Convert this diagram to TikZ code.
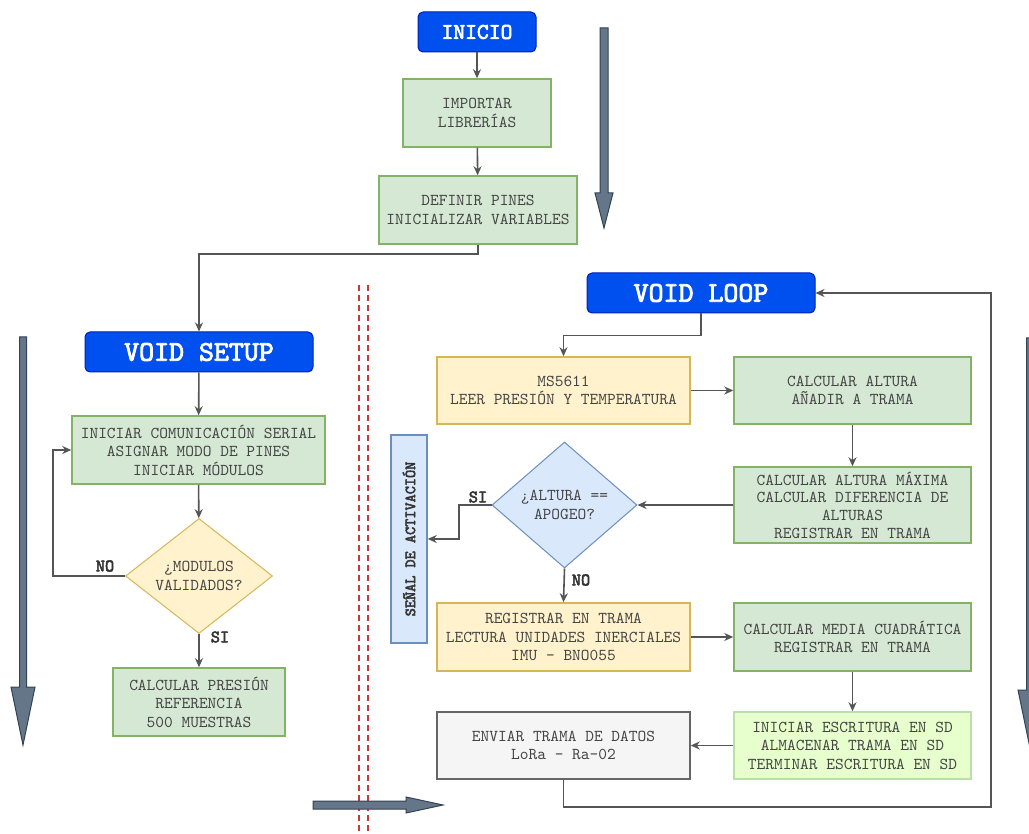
\documentclass[tikz,border=0pt]{standalone}
\usepackage{fontspec}
\newfontfamily\courlt{lmmono10-regular.otf}
\newfontfamily\courbf{lmmono10-regular.otf}[FakeBold=3]
\usetikzlibrary{shapes.geometric,arrows.meta}
\definecolor{hdrfill}{HTML}{0050EF}
\definecolor{hdrdraw}{HTML}{001DBC}
\definecolor{gfill}{HTML}{D5E8D4}
\definecolor{gdraw}{HTML}{82B366}
\definecolor{yfill}{HTML}{FFF2CC}
\definecolor{ydraw}{HTML}{D6B656}
\definecolor{bfill}{HTML}{DAE8FC}
\definecolor{bdraw}{HTML}{6C8EBF}
\definecolor{lgfill}{HTML}{E6FFCC}
\definecolor{lgdraw}{HTML}{B9E0A5}
\definecolor{grfill}{HTML}{F5F5F5}
\definecolor{grdraw}{HTML}{666666}
\definecolor{afill}{HTML}{647687}
\definecolor{adraw}{HTML}{314354}
\definecolor{txtc}{HTML}{444444}
\definecolor{connc}{HTML}{555555}
\definecolor{redd}{HTML}{C83A3A}
\newcommand{\boxfont}{\courlt\fontsize{16.6}{18.5}\selectfont}
\newcommand{\hdrfontA}{\courbf\fontsize{22.5}{25}\selectfont}
\newcommand{\hdrfontB}{\courbf\fontsize{28.5}{31}\selectfont}
\newcommand{\lblfont}{\courbf\fontsize{17.5}{19}\selectfont}
\newcommand{\vfont}{\courbf\fontsize{15.5}{17}\selectfont}
\tikzset{
  basebox/.style={rectangle, line width=1.5pt, align=center, inner sep=0pt, font=\boxfont, text=txtc},
  hdr/.style={rectangle, rounded corners=5pt, draw=hdrdraw, fill=hdrfill, line width=1pt, text=white, inner sep=0pt},
  gbox/.style={basebox, draw=gdraw, fill=gfill},
  ybox/.style={basebox, draw=ydraw, fill=yfill},
  bbox/.style={basebox, draw=bdraw, fill=bfill},
  lgbox/.style={basebox, draw=lgdraw, fill=lgfill},
  grbox/.style={basebox, draw=grdraw, fill=grfill},
  ydia/.style={diamond, draw=ydraw, fill=yfill, line width=1pt, align=center, inner sep=0pt, font=\boxfont, text=txtc},
  bdia/.style={diamond, draw=bdraw, fill=bfill, line width=1pt, align=center, inner sep=0pt, font=\boxfont, text=txtc},
  conn/.style={draw=connc, line width=1.6pt, -{Stealth[length=9pt,width=8pt]}},
  lbl/.style={font=\lblfont, text=black!80, inner sep=0pt},
  bigarr/.style={draw=adraw, fill=afill, line width=1pt, line join=miter},
  reddash/.style={draw=redd, line width=2.2pt, dash pattern=on 6pt off 4pt}
}
\begin{document}
\begin{tikzpicture}[x=1pt,y=-1pt]
\useasboundingbox[fill=white] (0,0) rectangle (1029,834);

% decorative big arrows
\draw[bigarr] (600,28) -- (608,28) -- (608,193) -- (613,193) -- (604,228) -- (595,193) -- (600,193) -- cycle;
\draw[bigarr] (19.5,337) -- (26.5,337) -- (26.5,687) -- (35,687) -- (23,745) -- (11,687) -- (19.5,687) -- cycle;
\draw[bigarr] (1026.5,338) -- (1033.5,338) -- (1033.5,690) -- (1042,690) -- (1030,748) -- (1018,690) -- (1026.5,690) -- cycle;

% red separator
\draw[reddash] (359,285) -- (359,834);
\draw[reddash] (368,285) -- (368,834);

\draw[bigarr] (313,801) -- (406,801) -- (406,797) -- (443,805) -- (406,813) -- (406,809) -- (313,809) -- cycle;

% top
\node[hdr, minimum width=118, minimum height=40, font=\hdrfontA] (inicio) at (477,32) {INICIO};
\node[gbox, minimum width=148, minimum height=68] (imp) at (477,113) {IMPORTAR\\LIBRERÍAS};
\node[gbox, minimum width=198, minimum height=68] (def) at (478,210) {DEFINIR PINES\\INICIALIZAR VARIABLES};

% setup
\node[hdr, minimum width=228, minimum height=40, font=\hdrfontB] (setup) at (199,352) {VOID SETUP};
\node[gbox, minimum width=253, minimum height=68] (ini) at (198.5,450) {INICIAR COMUNICACIÓN SERIAL\\ASIGNAR MODO DE PINES\\INICIAR MÓDULOS};
\node[ydia, minimum width=147, minimum height=115, aspect=1.28] (mod) at (199,576) {¿MODULOS\\VALIDADOS?};
\node[gbox, minimum width=172, minimum height=68] (pres) at (199,702) {CALCULAR PRESIÓN\\REFERENCIA\\500 MUESTRAS};
\node[lbl] (noA) at (105,566) {NO};
\node[lbl] (siA) at (220,637) {SI};
\coordinate (lc) at (53,576);

% loop
\node[hdr, minimum width=228, minimum height=40, font=\hdrfontB] (loop) at (701,293) {VOID LOOP};
\node[ybox, minimum width=253, minimum height=67] (ms) at (563.5,390.5) {MS5611\\LEER PRESIÓN Y TEMPERATURA};
\node[gbox, minimum width=237, minimum height=67] (alt) at (852.5,390.5) {CALCULAR ALTURA\\AÑADIR A TRAMA};
\node[gbox, minimum width=237, minimum height=76, font=\courlt\fontsize{16.6}{17.6}\selectfont] (max) at (852.5,505) {CALCULAR ALTURA MÁXIMA\\CALCULAR DIFERENCIA DE\\ALTURAS\\REGISTRAR EN TRAMA};
\node[bdia, minimum width=145, minimum height=126, aspect=1.15] (apo) at (564.5,505) {¿ALTURA ==\\APOGEO?};
\node[bbox, rotate=90, minimum width=208, minimum height=36, font=\vfont, text=black!80] (sen) at (409,539) {SEÑAL DE ACTIVACIÓN};
\node[ybox, minimum width=253, minimum height=68] (reg) at (563.5,637) {REGISTRAR EN TRAMA\\LECTURA UNIDADES INERCIALES\\IMU - BNO055};
\node[gbox, minimum width=237, minimum height=68] (med) at (852.5,637) {CALCULAR MEDIA CUADRÁTICA\\REGISTRAR EN TRAMA};
\node[lgbox, minimum width=237, minimum height=67] (esc) at (852.5,745.5) {INICIAR ESCRITURA EN SD\\ALMACENAR TRAMA EN SD\\TERMINAR ESCRITURA EN SD};
\node[grbox, minimum width=253, minimum height=67] (env) at (563.5,745.5) {ENVIAR TRAMA DE DATOS\\LoRa - Ra-02};
\node[lbl] (siB) at (478,497) {SI};
\node[lbl] (noB) at (581,580) {NO};
\coordinate (sc) at (459,505);
\coordinate (rc) at (991,807);

% connectors
\draw[conn] (inicio) -- (imp);
\draw[conn] (imp) -- (def);
\draw[conn] (def.south) -- ++(0,9) -| (setup.north);
\draw[conn] (setup) -- (ini);
\draw[conn] (ini) -- (mod);
\draw[conn] (mod.west) -- (lc) |- (ini.west);
\draw[conn] (mod.south) -- (pres.north);
\draw[conn] (loop.south) -- ++(0,22) -| (ms.north);
\draw[conn] (ms) -- (alt);
\draw[conn] (alt) -- (max);
\draw[conn] (max.west) -- (apo.east);
\draw[conn] (apo.west) -- (sc) |- (sen.south);
\draw[conn] (apo.south) -- (reg.north);
\draw[conn] (reg) -- (med);
\draw[conn] (med) -- (esc);
\draw[conn] (esc) -- (env);
\draw[conn] (env.south) |- (rc) |- (loop.east);
\end{tikzpicture}
\end{document}
